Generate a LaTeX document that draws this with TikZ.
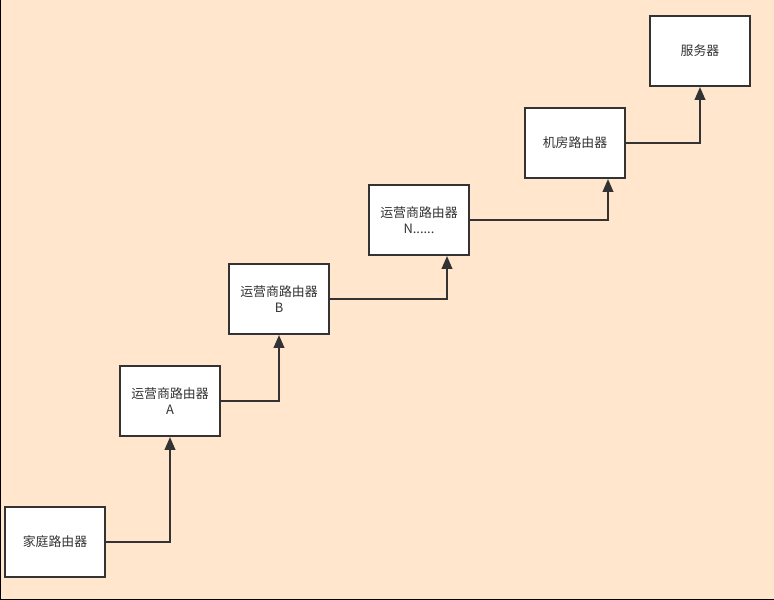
\documentclass[tikz,border=0pt]{standalone}
\usepackage{fontspec}
\newfontfamily\cjk{Noto Sans CJK SC}
\usetikzlibrary{arrows.meta}

\definecolor{sfondo}{HTML}{FFE6CC}
\definecolor{linea}{HTML}{333333}

\tikzset{
    router/.style={draw=linea, line width=1.7pt, fill=white,
        minimum width=3cm, minimum height=2.1cm, inner sep=0pt,
        align=center, text=linea, font=\cjk\fontsize{11}{13.6}\selectfont},
    collega/.style={draw=linea, line width=1.7pt,
        -{Triangle[length=11pt,width=9pt]}}
}

\begin{document}
\begin{tikzpicture}[x=0.03cm, y=-0.03cm]

    % Sfondo
    \fill[sfondo] (0,0) rectangle (774,600);
    \useasboundingbox (0,0) rectangle (774,600);
    \draw[black, line width=1pt] (0.5,0) -- (0.5,599.5) -- (774,599.5);

    % Router
    \node[router] (casa) at (55,542) {家庭路由器};
    \node[router] (a) at (170,401) {运营商路由器\\A};
    \node[router] (b) at (279,299) {运营商路由器\\B};
    \node[router] (n) at (419,220) {运营商路由器\\N......};
    \node[router] (sala) at (575,143) {机房路由器};
    \node[router] (server) at (700,51) {服务器};

    % Collegamenti
    \draw[collega] (casa.east) -| (a.south);
    \draw[collega] (a.east) -| (b.south);
    \draw[collega] (b.east) -| ([shift={(28,0)}]n.south);
    \draw[collega] (n.east) -| ([shift={(33,0)}]sala.south);
    \draw[collega] (sala.east) -| (server.south);

\end{tikzpicture}
\end{document}
